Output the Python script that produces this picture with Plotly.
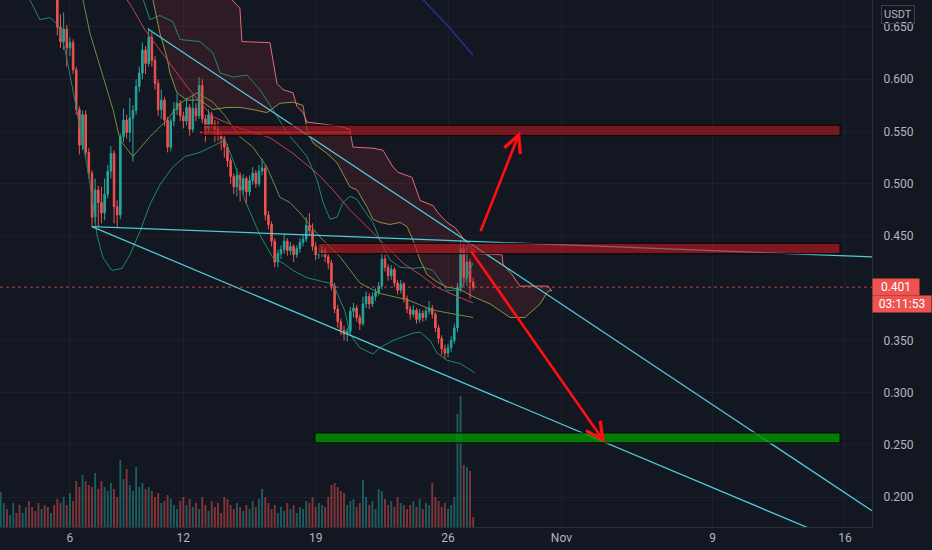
import datetime as dt
import plotly.graph_objects as go

BASE = dt.datetime(2023, 10, 1)


def day(d):
    # d = day number counted from 1 Oct (32 = 1 Nov), fractional part = time of day
    return BASE + dt.timedelta(days=d - 1)


# ---- 4h candles, first candle opens 2 Oct 08:00 ----
first_start = 2 + 8 / 24
first_open = 0.705
closes = [
    0.712, 0.720, 0.716, 0.724, 0.731, 0.726, 0.719, 0.727, 0.733, 0.728,
    0.722, 0.716, 0.708, 0.713, 0.705, 0.699, 0.702, 0.688, 0.650, 0.636,
    0.648, 0.630, 0.635, 0.609, 0.571, 0.537, 0.566, 0.530, 0.510, 0.468,
    0.494, 0.482, 0.472, 0.490, 0.512, 0.529, 0.478, 0.470, 0.545, 0.561,
    0.549, 0.563, 0.570, 0.593, 0.606, 0.628, 0.615, 0.640, 0.618, 0.596,
    0.571, 0.580, 0.561, 0.535, 0.560, 0.571, 0.577, 0.565, 0.560, 0.573,
    0.552, 0.572, 0.565, 0.594, 0.562, 0.553, 0.566, 0.557, 0.552, 0.546,
    0.543, 0.535, 0.522, 0.507, 0.497, 0.508, 0.494, 0.505, 0.492, 0.503,
    0.510, 0.500, 0.512, 0.515, 0.470, 0.461, 0.445, 0.425, 0.433, 0.437,
    0.445, 0.436, 0.440, 0.432, 0.438, 0.444, 0.447, 0.460, 0.455, 0.440,
    0.432, 0.434, 0.436, 0.430, 0.424, 0.402, 0.380, 0.368, 0.360, 0.356,
    0.359, 0.378, 0.381, 0.372, 0.366, 0.385, 0.392, 0.385, 0.392, 0.396,
    0.402, 0.428, 0.420, 0.412, 0.418, 0.405, 0.398, 0.404, 0.390, 0.380,
    0.375, 0.379, 0.370, 0.376, 0.372, 0.378, 0.381, 0.375, 0.362, 0.352,
    0.342, 0.338, 0.343, 0.350, 0.362, 0.400, 0.438, 0.410, 0.425, 0.406,
    0.401,
]
highs = [
    0.718, 0.726, 0.728, 0.730, 0.738, 0.735, 0.731, 0.733, 0.741, 0.737,
    0.732, 0.726, 0.720, 0.718, 0.716, 0.709, 0.708, 0.705, 0.692, 0.662,
    0.664, 0.652, 0.640, 0.638, 0.612, 0.574, 0.570, 0.570, 0.534, 0.513,
    0.505, 0.498, 0.497, 0.505, 0.518, 0.536, 0.532, 0.484, 0.548, 0.572,
    0.566, 0.582, 0.575, 0.600, 0.612, 0.635, 0.632, 0.649, 0.645, 0.622,
    0.600, 0.590, 0.583, 0.564, 0.563, 0.578, 0.586, 0.580, 0.569, 0.582,
    0.576, 0.585, 0.577, 0.602, 0.600, 0.566, 0.571, 0.569, 0.561, 0.560,
    0.550, 0.547, 0.538, 0.525, 0.510, 0.515, 0.511, 0.509, 0.507, 0.508,
    0.516, 0.513, 0.518, 0.524, 0.518, 0.474, 0.464, 0.448, 0.437, 0.441,
    0.452, 0.448, 0.444, 0.442, 0.441, 0.448, 0.452, 0.468, 0.472, 0.462,
    0.444, 0.438, 0.441, 0.439, 0.433, 0.427, 0.405, 0.384, 0.371, 0.364,
    0.362, 0.382, 0.386, 0.384, 0.375, 0.392, 0.397, 0.395, 0.396, 0.400,
    0.406, 0.434, 0.432, 0.423, 0.422, 0.420, 0.408, 0.408, 0.406, 0.393,
    0.383, 0.384, 0.381, 0.380, 0.379, 0.382, 0.388, 0.384, 0.377, 0.365,
    0.355, 0.346, 0.347, 0.354, 0.366, 0.405, 0.446, 0.444, 0.440, 0.428,
    0.410,
]
lows = [
    0.698, 0.706, 0.709, 0.711, 0.719, 0.718, 0.712, 0.714, 0.722, 0.721,
    0.715, 0.708, 0.700, 0.701, 0.697, 0.690, 0.691, 0.680, 0.642, 0.630,
    0.628, 0.612, 0.622, 0.605, 0.566, 0.528, 0.532, 0.525, 0.505, 0.459,
    0.462, 0.459, 0.462, 0.465, 0.486, 0.505, 0.462, 0.458, 0.466, 0.540,
    0.543, 0.540, 0.521, 0.566, 0.588, 0.600, 0.605, 0.612, 0.612, 0.590,
    0.565, 0.562, 0.555, 0.530, 0.531, 0.555, 0.566, 0.560, 0.553, 0.556,
    0.546, 0.549, 0.560, 0.562, 0.558, 0.540, 0.549, 0.553, 0.540, 0.541,
    0.532, 0.525, 0.516, 0.500, 0.490, 0.488, 0.483, 0.489, 0.480, 0.488,
    0.499, 0.496, 0.497, 0.508, 0.465, 0.456, 0.440, 0.420, 0.420, 0.428,
    0.433, 0.431, 0.432, 0.425, 0.429, 0.434, 0.440, 0.444, 0.450, 0.436,
    0.427, 0.428, 0.430, 0.425, 0.418, 0.398, 0.376, 0.362, 0.355, 0.350,
    0.349, 0.356, 0.372, 0.368, 0.360, 0.364, 0.381, 0.380, 0.382, 0.388,
    0.393, 0.399, 0.416, 0.407, 0.408, 0.401, 0.394, 0.395, 0.386, 0.376,
    0.370, 0.372, 0.366, 0.367, 0.368, 0.369, 0.375, 0.371, 0.358, 0.347,
    0.336, 0.332, 0.334, 0.339, 0.347, 0.358, 0.396, 0.402, 0.402, 0.390,
    0.398,
]
volumes = [
    35, 24, 18, 12, 24, 14, 22, 14, 20, 26, 20, 16,
    24, 18, 22, 20, 14, 22, 28, 24, 30, 22, 34, 26,
    46, 40, 52, 46, 42, 40, 54, 38, 46, 40, 36, 44,
    38, 30, 67, 48, 58, 42, 36, 60, 40, 44, 38, 40,
    36, 30, 34, 24, 26, 32, 28, 22, 18, 26, 30, 22,
    28, 20, 24, 18, 30, 22, 16, 26, 20, 24, 14, 30,
    28, 22, 18, 24, 20, 16, 22, 18, 26, 20, 28, 38,
    30, 24, 18, 22, 14, 20, 16, 24, 18, 22, 14, 20,
    18, 26, 24, 30, 20, 24, 22, 20, 30, 42, 44, 40,
    36, 34, 22, 26, 28, 20, 24, 47, 30, 22, 26, 18,
    38, 36, 28, 22, 26, 20, 30, 24, 22, 18, 22, 26,
    20, 28, 18, 24, 22, 44, 30, 26, 20, 24, 18, 22,
    30, 113, 131, 62, 60, 56, 10,
]

# ---- indicators (day numbers from 1 Oct, prices) ----
lead_b_day = [14.20, 14.57, 14.99, 15.10, 16.58, 16.95, 17.27, 17.80, 18.01, 18.33,
              18.54, 20.29, 20.81, 20.97, 22.03, 22.56, 23.09, 23.35, 24.10, 24.52,
              25.21, 25.47, 25.95, 26.37, 27.00, 27.53, 28.86, 28.91, 29.39, 29.81,
              31.29, 31.50]
lead_b = [0.690, 0.676, 0.668, 0.636, 0.635, 0.596, 0.590, 0.587, 0.574, 0.568,
          0.559, 0.555, 0.552, 0.535, 0.534, 0.532, 0.516, 0.511, 0.506, 0.484,
          0.479, 0.472, 0.463, 0.458, 0.443, 0.433, 0.432, 0.423, 0.413, 0.402,
          0.402, 0.397]
lead_a_day = [10.13, 10.39, 10.76, 11.13, 11.29, 11.66, 12.19, 12.88, 13.57, 14.31,
              14.99, 15.68, 16.42, 17.11, 17.80, 18.33, 18.54, 18.86, 19.23, 19.60,
              20.13, 20.44, 20.81, 21.19, 21.71, 22.03, 22.40, 22.93, 23.46, 23.83,
              24.15, 24.52, 24.89, 25.42, 25.95, 26.63, 27.32, 28.22, 29.28, 30.07,
              30.87, 31.29, 31.50]
lead_a = [0.690, 0.676, 0.644, 0.621, 0.606, 0.587, 0.580, 0.580, 0.571, 0.573,
          0.573, 0.571, 0.568, 0.577, 0.578, 0.575, 0.551, 0.539, 0.534, 0.529,
          0.520, 0.510, 0.497, 0.494, 0.478, 0.466, 0.463, 0.461, 0.463, 0.459,
          0.446, 0.427, 0.413, 0.406, 0.401, 0.399, 0.392, 0.385, 0.372, 0.372,
          0.385, 0.397, 0.398]
bb_up_day = [9.44, 9.86, 10.23, 10.76, 11.45, 11.82, 12.88, 13.57, 13.94, 14.62,
             15.37, 15.90, 16.05, 16.74, 17.48, 18.54, 19.07, 19.39, 19.76, 20.13,
             20.44, 20.81, 21.19, 21.50, 22.03, 22.40, 22.93, 23.46, 24.15, 24.68,
             25.21, 25.95, 26.63, 27.00, 27.32]
bb_up = [0.700, 0.676, 0.657, 0.661, 0.655, 0.638, 0.636, 0.625, 0.606, 0.602,
         0.604, 0.593, 0.590, 0.571, 0.549, 0.526, 0.504, 0.482, 0.466, 0.468,
         0.482, 0.488, 0.485, 0.476, 0.463, 0.446, 0.427, 0.420, 0.419, 0.420,
         0.417, 0.398, 0.398, 0.411, 0.424]
bb_lo_day = [3.35, 3.88, 4.41, 4.94, 5.37, 5.74, 6.26, 6.63, 6.95, 7.22,
             7.43, 7.75, 8.22, 8.75, 9.17, 9.70, 10.23, 10.76, 11.40, 12.08,
             12.88, 13.57, 14.20, 14.73, 15.26, 16.05, 16.74, 17.27, 17.80, 18.54,
             19.23, 19.92, 20.55, 20.81, 21.34, 22.03, 22.40, 23.09, 24.15, 24.52,
             25.05, 25.42, 25.95, 26.63, 27.43]
bb_lo = [0.690, 0.676, 0.657, 0.659, 0.652, 0.628, 0.580, 0.542, 0.513, 0.480,
         0.451, 0.429, 0.417, 0.419, 0.432, 0.454, 0.480, 0.499, 0.515, 0.526,
         0.530, 0.536, 0.542, 0.518, 0.484, 0.451, 0.429, 0.424, 0.417, 0.410,
         0.407, 0.404, 0.378, 0.356, 0.343, 0.337, 0.343, 0.350, 0.357, 0.358,
         0.350, 0.338, 0.331, 0.328, 0.319]
basis_day = [6.42, 6.69, 7.06, 7.59, 8.28, 8.65, 9.33, 10.23, 11.13, 11.82,
             12.72, 13.57, 14.20, 14.99, 15.68, 16.42, 17.11, 17.64, 18.17, 19.23,
             20.29, 21.34, 22.40, 23.83, 25.21, 27.32]
basis = [0.690, 0.676, 0.644, 0.612, 0.571, 0.542, 0.526, 0.545, 0.561, 0.577,
         0.587, 0.578, 0.565, 0.545, 0.535, 0.516, 0.487, 0.482, 0.472, 0.449,
         0.430, 0.405, 0.395, 0.389, 0.379, 0.372]
red_ma_day = [8.75, 9.02, 9.28, 9.97, 10.76, 11.56, 12.19, 12.88, 13.57, 14.99,
              16.58, 17.80, 19.07, 19.92, 20.81, 21.71, 22.40, 23.09, 23.62, 24.52,
              25.42, 26.37, 27.32]
red_ma = [0.690, 0.676, 0.669, 0.647, 0.628, 0.609, 0.593, 0.578, 0.564, 0.553,
          0.544, 0.529, 0.510, 0.494, 0.475, 0.459, 0.446, 0.434, 0.424, 0.413,
          0.401, 0.393, 0.386]
kijun_day = [12.88, 20.81]
kijun = [0.549, 0.549]
blue_ma_day = [24.25, 24.68, 25.95, 26.63, 27.32]
blue_ma = [0.690, 0.676, 0.652, 0.638, 0.623]

# ---- drawings ----
tl_upper_day, tl_upper = [10.13, 48.43], [0.648, 0.187]
tl_flat_day, tl_flat = [7.16, 48.43], [0.459, 0.430]
tl_lower_day, tl_lower = [7.16, 48.43], [0.459, 0.145]
zones = [  # day from, day to, price low, price high, fill
    (13.04, 46.74, 0.546, 0.556, 'rgba(178,24,30,0.62)'),
    (19.12, 46.74, 0.433, 0.443, 'rgba(190,26,32,0.62)'),
    (18.96, 46.74, 0.252, 0.2615, 'rgba(0,150,0,0.78)'),
]
arrow_up = (27.69, 0.453, 29.81, 0.550)
arrow_down = (27.16, 0.437, 34.31, 0.252)

last_price = 0.401
countdown = '03:11:53'
tick_days = [6, 12, 19, 26, 32, 40, 47]
tick_text = ['6', '12', '19', '26', 'Nov', '9', '16']
y_ticks = [0.200, 0.250, 0.300, 0.350, 0.450, 0.500, 0.550, 0.600, 0.650]

BG = '#131722'
GRID = '#1c202b'
TXT = '#b2b5be'
UP = '#26a69a'
DOWN = '#ef5350'
CYAN = '#4fc9d6'

times = [day(first_start) + dt.timedelta(hours=4 * i) for i in range(len(closes))]
opens = [first_open] + closes[:-1]
vol_colors = ['rgba(38,166,154,0.5)' if c >= o else 'rgba(239,83,80,0.5)'
              for o, c in zip(opens, closes)]

fig = go.Figure()

# ichimoku cloud
fig.add_trace(go.Scatter(
    x=[day(d) for d in lead_b_day] + [day(d) for d in lead_a_day[::-1]],
    y=lead_b + lead_a[::-1], mode='lines', fill='toself',
    fillcolor='rgba(190,45,60,0.17)', line=dict(width=0), hoverinfo='skip'))


def line(xd, yv, color, width=1):
    fig.add_trace(go.Scatter(x=[day(d) for d in xd], y=yv, mode='lines',
                             line=dict(color=color, width=width), hoverinfo='skip'))


line(bb_up_day, bb_up, '#1d8a6c')
line(bb_lo_day, bb_lo, '#1d8a6c')
line(basis_day, basis, '#6d8f3f')
line(lead_a_day, lead_a, '#8a9440')
line(lead_b_day, lead_b, '#e06b78')
line(red_ma_day, red_ma, '#c8404e')
line(kijun_day, kijun, '#e0343f', 1.5)
line(blue_ma_day, blue_ma, '#2b2f8c', 1.5)

fig.add_trace(go.Candlestick(
    x=times, open=opens, high=highs, low=lows, close=closes,
    increasing=dict(line=dict(color=UP, width=1), fillcolor=UP),
    decreasing=dict(line=dict(color=DOWN, width=1), fillcolor=DOWN),
    whiskerwidth=0, hoverinfo='skip'))

fig.add_trace(go.Bar(x=times, y=volumes, marker_color=vol_colors, marker_line_width=0,
                     width=4 * 3600 * 1000 * 0.6, yaxis='y2', hoverinfo='skip'))

line(tl_upper_day, tl_upper, CYAN, 1.3)
line(tl_flat_day, tl_flat, CYAN, 1.3)
line(tl_lower_day, tl_lower, CYAN, 1.3)

for d0, d1, p0, p1, col in zones:
    fig.add_shape(type='rect', xref='x', yref='y', x0=day(d0), x1=day(d1), y0=p0, y1=p1,
                  fillcolor=col, line=dict(color='#050505', width=1), layer='above')

fig.add_shape(type='line', xref='paper', yref='y', x0=0, x1=1, y0=last_price, y1=last_price,
              line=dict(color='rgba(239,83,80,0.75)', width=1, dash='dot'))

for d0, p0, d1, p1 in (arrow_up, arrow_down):
    fig.add_annotation(x=day(d1), y=p1, ax=day(d0), ay=p0, xref='x', yref='y',
                       axref='x', ayref='y', text='', showarrow=True, arrowhead=5,
                       arrowsize=1.3, arrowwidth=2.6, arrowcolor='#ff1010', standoff=0)

fig.add_annotation(xref='paper', x=1, xanchor='left', yref='y', y=last_price,
                   text=f'{last_price:.3f}', width=44, align='center', showarrow=False,
                   bgcolor=DOWN, font=dict(color='white', size=12), borderpad=1)
fig.add_annotation(xref='paper', x=1, xanchor='left', yref='y', y=last_price, yshift=-17,
                   text=countdown, width=56, align='center', showarrow=False,
                   bgcolor=DOWN, font=dict(color='white', size=12), borderpad=1)
fig.add_annotation(xref='paper', x=1, xanchor='left', xshift=9, yref='paper', y=1,
                   yanchor='top', yshift=-5, text='USDT', showarrow=False,
                   bordercolor='#3b3f4b', borderwidth=1, borderpad=2,
                   font=dict(color=TXT, size=11))

fig.update_layout(
    width=932, height=550,
    margin=dict(l=0, r=60, t=0, b=23),
    paper_bgcolor=BG, plot_bgcolor=BG,
    showlegend=False,
    font=dict(family='Roboto, sans-serif', size=12, color=TXT),
    xaxis=dict(type='date', range=[day(2.30), day(48.43)],
               tickvals=[day(d) for d in tick_days], ticktext=tick_text,
               showgrid=True, gridcolor=GRID, showline=True, linecolor='#2a2e39',
               zeroline=False, ticks='', rangeslider=dict(visible=False)),
    yaxis=dict(side='right', range=[0.1715, 0.6758], tickvals=y_ticks,
               ticktext=[f'{v:.3f}' for v in y_ticks], showgrid=True, gridcolor=GRID,
               showline=True, linecolor='#2a2e39', zeroline=False, ticks='',
               ticklabelstandoff=8),
    yaxis2=dict(overlaying='y', range=[0, 527], visible=False),
)

# the page body has a default 8px margin; drop it so the chart fills the window
fig.write_html("out.html", config={'displayModeBar': False},
               post_script="document.body.style.margin='0';"
                           "document.body.style.background='#131722';")
